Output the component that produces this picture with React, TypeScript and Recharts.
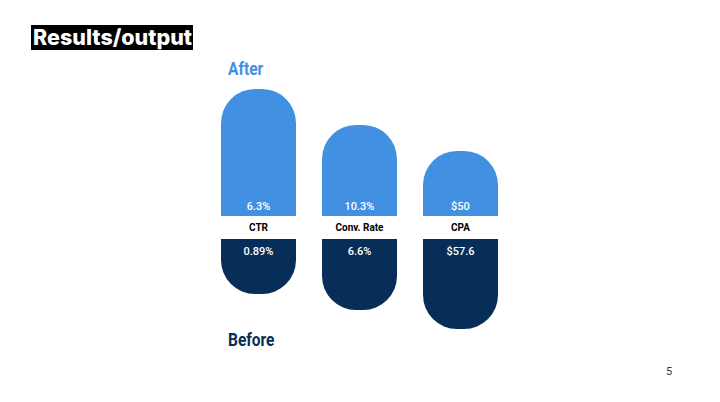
import React from 'react';
import { BarChart, Bar, XAxis, YAxis, LabelList } from 'recharts';

// values; bar heights are the drawn sizes (the graphic is not to scale)
const categories = ['CTR', 'Conv. Rate', 'CPA'];
const afterLabels = ['6.3%', '10.3%', '$50'];
const beforeLabels = ['0.89%', '6.6%', '$57.6'];
const afterHeights = [127, 91, 65];
const beforeHeights = [55, 71, 90];

const LIGHT = '#4290E2';
const NAVY = '#072E58';
const RADIUS = 34;

const data = categories.map((category, i) => ({
  category,
  after: afterHeights[i],
  before: beforeHeights[i],
  afterLabel: afterLabels[i],
  beforeLabel: beforeLabels[i],
}));

// rounded end on one side only: 'up' rounds the top, 'down' rounds the bottom
function Capsule(props: any) {
  const { x, y, width, height, fill, dir } = props;
  const top = Math.min(y, y + height);
  const bottom = Math.max(y, y + height);
  const r = Math.min(RADIUS, width / 2, bottom - top);
  const right = x + width;
  const d =
    dir === 'up'
      ? `M${x},${bottom} L${x},${top + r} A${r},${r} 0 0 1 ${x + r},${top} L${right - r},${top} A${r},${r} 0 0 1 ${right},${top + r} L${right},${bottom} Z`
      : `M${x},${top} L${right},${top} L${right},${bottom - r} A${r},${r} 0 0 1 ${right - r},${bottom} L${x + r},${bottom} A${r},${r} 0 0 1 ${x},${bottom - r} Z`;
  return <path d={d} fill={fill} />;
}

function AfterLabel(props: any) {
  const { x, y, width, height, value } = props;
  const bottom = Math.max(y, y + height);
  return (
    <text x={x + width / 2} y={bottom - 6.5} textAnchor="middle" fill="#fff" fontSize={11} fontWeight={500} fontFamily="Roboto, sans-serif">
      {value}
    </text>
  );
}

function BeforeLabel(props: any) {
  const { x, y, width, height, value } = props;
  const top = Math.min(y, y + height);
  return (
    <text x={x + width / 2} y={top + 16} textAnchor="middle" fill="#fff" fontSize={11} fontWeight={500} fontFamily="Roboto, sans-serif">
      {value}
    </text>
  );
}

const sideLabel: React.CSSProperties = {
  position: 'absolute',
  left: 228,
  fontFamily: 'Roboto, sans-serif',
  fontWeight: 700,
  fontSize: 18,
  lineHeight: '22px',
  transform: 'scaleX(0.86)',
  transformOrigin: 'left center',
  whiteSpace: 'nowrap',
};

export default function App() {
  return (
    <div style={{ position: 'absolute', left: 0, top: 0, width: 720, height: 402, background: '#fff', overflow: 'hidden' }}>
      <div
        style={{
          position: 'absolute', left: 31, top: 25, width: 162, height: 25, background: '#000', color: '#fff',
          fontFamily: 'Inter, sans-serif', fontWeight: 800, fontSize: 21.5, lineHeight: '25px', paddingLeft: 2, boxSizing: 'border-box', whiteSpace: 'nowrap',
        }}
      >
        Results/output
      </div>

      <div style={{ ...sideLabel, top: 58, color: LIGHT }}>After</div>

      <div style={{ position: 'absolute', left: 208, top: 76 }}>
        <BarChart width={303} height={163} data={data} margin={{ top: 0, right: 0, bottom: 0, left: 0 }} barSize={75}>
          <XAxis
            dataKey="category"
            height={23}
            axisLine={false}
            tickLine={false}
            interval={0}
            tick={{ fill: '#000', fontSize: 10, fontWeight: 700, fontFamily: 'Roboto, sans-serif' }}
          />
          <YAxis hide domain={[0, 140]} />
          <Bar dataKey="after" fill={LIGHT} isAnimationActive={false} shape={(p: any) => <Capsule {...p} dir="up" />}>
            <LabelList dataKey="afterLabel" content={AfterLabel} />
          </Bar>
        </BarChart>
      </div>

      <div style={{ position: 'absolute', left: 208, top: 239 }}>
        <BarChart width={303} height={100} data={data} margin={{ top: 0, right: 0, bottom: 0, left: 0 }} barSize={75}>
          <XAxis dataKey="category" hide />
          <YAxis hide reversed domain={[0, 100]} />
          <Bar dataKey="before" fill={NAVY} isAnimationActive={false} shape={(p: any) => <Capsule {...p} dir="down" />}>
            <LabelList dataKey="beforeLabel" content={BeforeLabel} />
          </Bar>
        </BarChart>
      </div>

      <div style={{ ...sideLabel, top: 329, color: NAVY }}>Before</div>

      <div style={{ position: 'absolute', left: 666, top: 365, color: '#333', fontFamily: 'Roboto, sans-serif', fontSize: 11 }}>
        5
      </div>
    </div>
  );
}
